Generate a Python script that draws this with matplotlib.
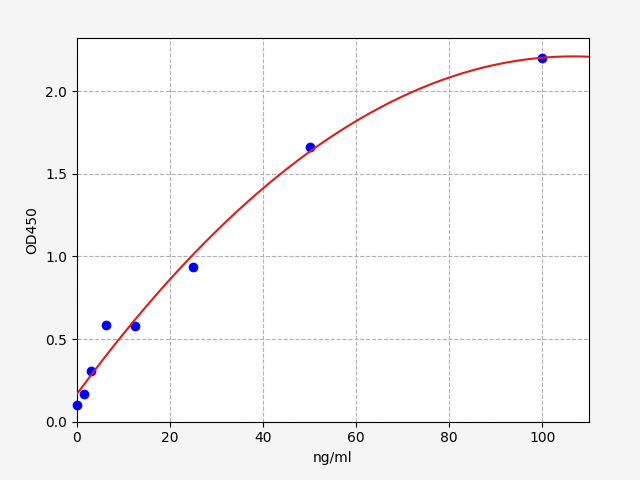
import numpy as np
import matplotlib
matplotlib.use("Agg")
import matplotlib.pyplot as plt

conc = [0, 1.5625, 3.125, 6.25, 12.5, 25, 50, 100]
od = [0.10, 0.17, 0.305, 0.585, 0.58, 0.935, 1.665, 2.20]

# fitted standard curve (quadratic through the standards)
coef = np.polyfit(conc, od, 2)
xfit = np.linspace(0, 110, 200)
yfit = np.polyval(coef, xfit)

fig = plt.figure(figsize=(6.4, 4.8), dpi=100, facecolor="#f5f5f5")
ax = fig.add_axes([0.12, 0.1215, 0.8, 0.7985])
ax.scatter(conc, od, color="blue", s=36, zorder=2, clip_on=False)
ax.plot(xfit, yfit, color="#dd1c1c", lw=1.5, zorder=3)
ax.set_xlim(0, 110)
ax.set_ylim(0, 2.32)
ax.set_xticks([0, 20, 40, 60, 80, 100])
ax.set_yticks([0.0, 0.5, 1.0, 1.5, 2.0])
ax.grid(True, linestyle="--", color="#b0b0b0")
ax.set_axisbelow(True)
ax.set_xlabel("ng/ml")
ax.set_ylabel("OD450")
fig.savefig("out.png", dpi=100, facecolor=fig.get_facecolor())
